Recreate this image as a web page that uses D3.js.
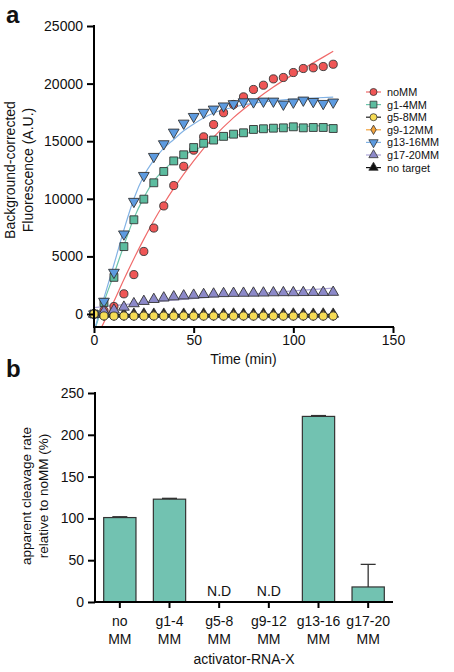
<!DOCTYPE html>
<html><head><meta charset="utf-8">
<script src="https://cdn.jsdelivr.net/npm/d3@7"></script>
<style>
body{margin:0;background:#fff}
text{font-family:"Liberation Sans",Arial,Helvetica,sans-serif;fill:#111}
</style>
</head><body>
<svg id="c" width="454" height="672"></svg>
<script>
// ---------- Panel a data ----------
const times = [0,5,10,15,20,25,30,35,40,45,50,55,60,65,70,75,80,85,90,95,100,105,110,115,120];
const noMM    = [0,300,650,1750,3420,5430,7460,9380,11150,12820,14220,15380,16450,17470,18190,18850,19490,19860,20410,20530,20960,21310,21370,21480,21680];
const g1_4MM  = [0,1000,3180,5850,8180,9970,11390,12370,13290,13820,14450,14820,15100,15420,15610,15730,16020,16080,16130,16160,16250,16160,16190,16190,16100];
const g5_8MM  = [0,-170,-180,-170,-180,-180,-170,-180,-180,-170,-180,-180,-170,-180,-180,-170,-180,-180,-170,-180,-180,-170,-180,-180,-170];
const g9_12MM = [0,-120,-110,-120,-120,-110,-120,-120,-110,-120,-120,-110,-120,-120,-110,-120,-120,-110,-120,-120,-110,-120,-120,-110,-120];
const g13_16MM= [0,1100,3610,6940,9770,12020,13670,14770,15780,16560,17140,17500,17780,18050,18250,18410,18410,18470,18470,18210,18390,18560,18440,18270,18390];
const g17_20MM= [0,200,350,600,900,1100,1270,1400,1500,1580,1640,1700,1740,1780,1800,1810,1820,1830,1850,1860,1860,1870,1880,1880,1890];
const noTarget= [0,-10,0,-10,-10,0,-10,-10,0,-10,-10,0,-10,-10,0,-10,-10,0,-10,-10,0,-10,-10,0,-10];

// fitted curves
const fitNoMM_t = [3.7,10,15,20,25,30,35,40,50,60,70,80,90,100,110,120];
const fitNoMM_y = [-1190,1100,3000,4800,6500,8100,9550,10900,13300,15350,17050,18450,19700,20800,21800,22800];
const fitG1_4_t = [0.8,5,10,15,20,25,30,35,40,45,50,60,70,80,90,100,110,120];
const fitG1_4_y = [-1150,1050,3450,5950,8300,10100,11550,12500,13250,13800,14200,14950,15450,15800,16050,16200,16320,16400];
const fitG13_16_t = [0.6,5,10,15,20,25,30,35,40,45,50,60,70,80,90,100,110,120];
const fitG13_16_y = [-1150,1400,4300,7300,10000,12000,13350,14400,15150,15900,16500,17450,17950,18300,18500,18650,18750,18820];
const fitG17_20_t = [0,20,40,60,80,100,120];
const fitG17_20_y = [550,900,1200,1480,1750,2000,2250];
const fitFlat_t = [0,120];
const fitG5_8_y = [-60,-60];
const fitG9_12_y = [-80,-80];
const fitNoTarget_y = [-30,-30];

const seriesNames = ["noMM","g1-4MM","g5-8MM","g9-12MM","g13-16MM","g17-20MM","no target"];
const xTicksA = [0,50,100,150];
const yTicksA = [0,5000,10000,15000,20000,25000];

// ---------- Panel b data ----------
const barCats  = ["no|MM","g1-4|MM","g5-8|MM","g9-12|MM","g13-16|MM","g17-20|MM"];
const barVals  = [101,123,null,null,222,18];
const barErr   = [1,1,null,null,1,27];
const yTicksB  = [0,50,100,150,200,250];

// ---------- styles ----------
const fillC = {"noMM":"#ef5656","g1-4MM":"#5cbc9f","g5-8MM":"#f6dc55","g9-12MM":"#f3a33c","g13-16MM":"#5d9be0","g17-20MM":"#8c89c9","no target":"#111"};
const lineC = {"noMM":"#f06a6a","g1-4MM":"#6cc5ab","g5-8MM":"#222","g9-12MM":"#f3a33c","g13-16MM":"#82b2e4","g17-20MM":"#aca6d8","no target":"#111"};
const shape = {"noMM":[d3.symbolCircle,0],"g1-4MM":[d3.symbolSquare,0],"g5-8MM":[d3.symbolCircle,0],"g9-12MM":[d3.symbolDiamond,0],"g13-16MM":[d3.symbolTriangle,180],"g17-20MM":[d3.symbolTriangle,0],"no target":[d3.symbolTriangle,0]};
const sizeA = {"noMM":52,"g1-4MM":62,"g5-8MM":52,"g9-12MM":34,"g13-16MM":50,"g17-20MM":50,"no target":50};

const svg = d3.select("#c");
const FONT = 14;

// ================= Panel a =================
const x = d3.scaleLinear().domain([0,150]).range([94,393]);
const y = d3.scaleLinear().domain([0,25000]).range([314,26]);
const xAxisY = 327;

svg.append("text").attr("x",6).attr("y",23).attr("font-size",24).attr("font-weight","bold").text("a");

svg.append("clipPath").attr("id","clipA").append("rect")
  .attr("x",x(0)).attr("y",y(25000)).attr("width",x(150)-x(0)).attr("height",xAxisY-y(25000));

const gA = svg.append("g");
const line = d3.line().x(d=>x(d[0])).y(d=>y(d[1])).curve(d3.curveMonotoneX);
const zip = (a,b)=>a.map((v,i)=>[v,b[i]]);

const fits = [
  ["no target", zip(fitFlat_t, fitNoTarget_y)],
  ["g9-12MM", zip(fitFlat_t, fitG9_12_y)],
  ["g5-8MM", zip(fitFlat_t, fitG5_8_y)],
  ["g17-20MM", zip(fitG17_20_t, fitG17_20_y)],
  ["noMM", zip(fitNoMM_t, fitNoMM_y)],
  ["g1-4MM", zip(fitG1_4_t, fitG1_4_y)],
  ["g13-16MM", zip(fitG13_16_t, fitG13_16_y)]
];
const fitG = gA.append("g").attr("clip-path","url(#clipA)");
fits.forEach(([n,pts])=>{
  fitG.append("path").datum(pts).attr("d",line).attr("fill","none")
    .attr("stroke",lineC[n]).attr("stroke-width",1.2);
});

const seriesData = {"noMM":noMM,"g1-4MM":g1_4MM,"g5-8MM":g5_8MM,"g9-12MM":g9_12MM,"g13-16MM":g13_16MM,"g17-20MM":g17_20MM,"no target":noTarget};
const drawOrder = ["no target","g9-12MM","noMM","g1-4MM","g13-16MM","g17-20MM","g5-8MM"];
drawOrder.forEach(n=>{
  const [sym,rot] = shape[n];
  const path = d3.symbol().type(sym).size(sizeA[n])();
  gA.append("g").selectAll("path").data(times.map((t,i)=>[t,seriesData[n][i]])).join("path")
    .attr("d",path)
    .attr("transform",d=>`translate(${x(d[0])},${y(d[1])}) rotate(${rot})`)
    .attr("fill",fillC[n]).attr("stroke","#333").attr("stroke-width",0.9);
});

// axes a
const yAxA = svg.append("g").attr("transform",`translate(${x(0)},0)`)
  .call(d3.axisLeft(y).tickValues(yTicksA).tickFormat(d3.format("d")).tickSize(7).tickPadding(4).tickSizeOuter(0));
yAxA.select(".domain").remove();
yAxA.append("line").attr("x1",0).attr("x2",0).attr("y1",y(25000)-1).attr("y2",xAxisY+1).attr("stroke","#000").attr("stroke-width",2);
const xAxA = svg.append("g").attr("transform",`translate(0,${xAxisY})`)
  .call(d3.axisBottom(x).tickValues(xTicksA).tickSize(6).tickPadding(2).tickSizeOuter(0));
xAxA.select(".domain").remove();
xAxA.append("line").attr("x1",x(0)-1).attr("x2",x(150)+1).attr("y1",0).attr("y2",0).attr("stroke","#000").attr("stroke-width",2);
[yAxA,xAxA].forEach(g=>{
  g.selectAll(".tick line").attr("stroke","#000").attr("stroke-width",2);
  g.selectAll(".tick text").attr("font-size",FONT).attr("font-family","Liberation Sans, Arial, sans-serif").attr("fill","#111");
});

svg.append("text").attr("x",(x(0)+x(150))/2).attr("y",364).attr("text-anchor","middle").attr("font-size",FONT).text("Time (min)");
const yTitA = svg.append("text").attr("transform",`translate(15,170) rotate(-90)`).attr("text-anchor","middle").attr("font-size",FONT);
yTitA.append("tspan").attr("x",0).attr("y",0).text("Background-corrected");
yTitA.append("tspan").attr("x",0).attr("y",18).text("Fluorescence (A.U.)");

// legend
const lg = svg.append("g");
seriesNames.forEach((n,i)=>{
  const cy = 92 + i*12.6;
  lg.append("line").attr("x1",366).attr("x2",381).attr("y1",cy).attr("y2",cy).attr("stroke",lineC[n]).attr("stroke-width",1.2);
  const [sym,rot] = shape[n];
  lg.append("path").attr("d",d3.symbol().type(sym).size(sizeA[n]*0.75)())
    .attr("transform",`translate(373.5,${cy}) rotate(${rot})`)
    .attr("fill",fillC[n]).attr("stroke","#333").attr("stroke-width",0.8);
  lg.append("text").attr("x",387).attr("y",cy+4).attr("font-size",10.9).attr("textLength", null).text(n);
});

// ================= Panel b =================
svg.append("text").attr("x",6).attr("y",377).attr("font-size",24).attr("font-weight","bold").text("b");

const xb = d3.scaleBand().domain(barCats).range([95,393]).paddingInner(0.35).paddingOuter(0.175);
const yb = d3.scaleLinear().domain([0,250]).range([602,393]);

const gB = svg.append("g");
barCats.forEach((c,i)=>{
  const v = barVals[i];
  const cx = xb(c)+xb.bandwidth()/2;
  if(v===null){
    gB.append("text").attr("x",cx).attr("y",596).attr("text-anchor","middle").attr("font-size",FONT).text("N.D");
    return;
  }
  gB.append("rect").attr("x",xb(c)).attr("y",yb(v)).attr("width",xb.bandwidth()).attr("height",yb(0)-yb(v))
    .attr("fill","#72c2b1").attr("stroke","#333").attr("stroke-width",1.2);
  const e = barErr[i];
  gB.append("line").attr("x1",cx).attr("x2",cx).attr("y1",yb(v)).attr("y2",yb(v+e)).attr("stroke","#333").attr("stroke-width",1.3);
  gB.append("line").attr("x1",cx-7.5).attr("x2",cx+7.5).attr("y1",yb(v+e)).attr("y2",yb(v+e)).attr("stroke","#333").attr("stroke-width",1.3);
});

const yAxB = svg.append("g").attr("transform",`translate(95,0)`)
  .call(d3.axisLeft(yb).tickValues(yTicksB).tickSize(7).tickPadding(4).tickSizeOuter(0));
yAxB.select(".domain").remove();
yAxB.append("line").attr("x1",0).attr("x2",0).attr("y1",yb(250)-1).attr("y2",yb(0)+1).attr("stroke","#000").attr("stroke-width",2);
const xAxB = svg.append("g").attr("transform",`translate(0,${yb(0)})`)
  .call(d3.axisBottom(xb).tickSize(6).tickSizeOuter(0).tickFormat(""));
xAxB.select(".domain").remove();
xAxB.append("line").attr("x1",94).attr("x2",393).attr("y1",0).attr("y2",0).attr("stroke","#000").attr("stroke-width",2);
[yAxB,xAxB].forEach(g=>{
  g.selectAll(".tick line").attr("stroke","#000").attr("stroke-width",2);
  g.selectAll(".tick text").attr("font-size",FONT).attr("font-family","Liberation Sans, Arial, sans-serif").attr("fill","#111");
});
xAxB.selectAll(".tick").each(function(d){
  const parts = d.split("|");
  const t = d3.select(this).append("text").attr("text-anchor","middle").attr("font-size",FONT).attr("fill","#111");
  t.append("tspan").attr("x",0).attr("y",24).text(parts[0]);
  t.append("tspan").attr("x",0).attr("y",42).text(parts[1]);
});

svg.append("text").attr("x",(95+393)/2).attr("y",664).attr("text-anchor","middle").attr("font-size",FONT).text("activator-RNA-X");
const yTitB = svg.append("text").attr("transform",`translate(31,496) rotate(-90)`).attr("text-anchor","middle").attr("font-size",13.5);
yTitB.append("tspan").attr("x",0).attr("y",0).text("apparent cleavage rate");
yTitB.append("tspan").attr("x",0).attr("y",17).text("relative to noMM (%)");
</script>
</body></html>
